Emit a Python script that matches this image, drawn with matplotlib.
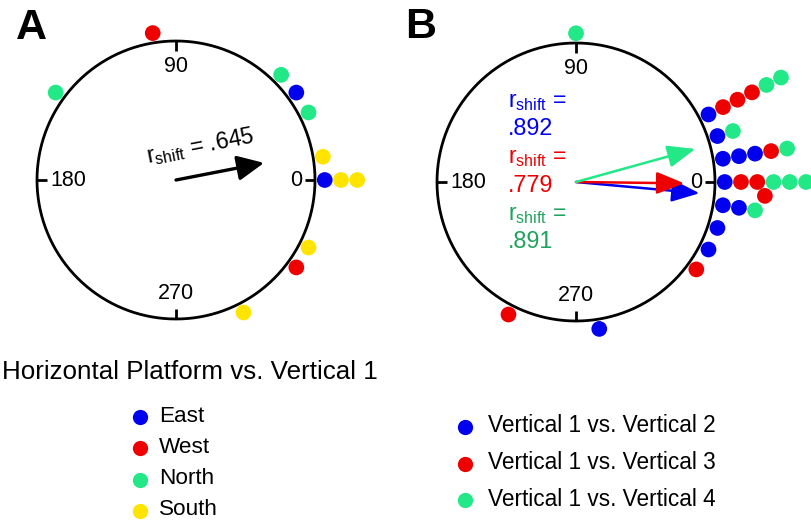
import matplotlib
matplotlib.use('Agg')
import matplotlib.pyplot as plt
import numpy as np
from matplotlib.lines import Line2D

plt.rcParams['font.family'] = ['Liberation Sans', 'DejaVu Sans']

# ---------------- data ----------------
BLUE = '#0000EE'
RED = '#EE0000'
GREEN = '#22E887'
YELLOW = '#FFE400'
GREEN_TXT = '#1FA35C'

# Panel A: phase shift (deg) and stack level of each dot
a_east_ang = [36, 0]
a_east_lvl = [0, 0]
a_west_ang = [99, 324]
a_west_lvl = [0, 0]
a_north_ang = [144, 45, 27]
a_north_lvl = [0, 0, 0]
a_south_ang = [9, 0, 0, 333, 297]
a_south_lvl = [0, 1, 2, 0, 0]
a_r = 0.645
a_mean_ang = 11.0

# Panel B
b_v2_ang = [27, 18, 9, 9, 9, 0, 351, 351, 342, 333, 279]
b_v2_lvl = [0, 0, 0, 1, 2, 0, 0, 1, 0, 0, 0]
b_v3_ang = [27, 27, 27, 9, 0, 0, 355.8, 324, 243]
b_v3_lvl = [1, 2, 3, 3, 1, 2, 2.5, 0, 0]
b_v4_ang = [90, 27, 27, 18, 9, 0, 0, 0, 351]
b_v4_lvl = [0, 4, 5, 1, 4, 3, 4, 5, 2]
b_r = [0.892, 0.779, 0.891]
b_mean_ang = [-5.2, -0.7, 15.5]

legend_a_title = 'Horizontal Platform vs. Vertical 1'
legend_a_labels = ['East', 'West', 'North', 'South']
legend_a_colors = [BLUE, RED, GREEN, YELLOW]
legend_b_labels = ['Vertical 1 vs. Vertical 2', 'Vertical 1 vs. Vertical 3',
                   'Vertical 1 vs. Vertical 4']
legend_b_colors = [BLUE, RED, GREEN]
b_text_colors = [BLUE, RED, GREEN_TXT]

tick_angles = [0, 90, 180, 270]

# ---------------- layout ----------------
W, H = 812, 526
fig = plt.figure(figsize=(W / 100, H / 100), dpi=100)
R = 139.0
BASE = 1.07
STEP = 0.117
DOT_S = 128
TICK_FS = 15.5


def make_ax(cx, cy, left_px, width_px):
    ax = fig.add_axes([left_px / W, 0, width_px / W, 1])
    ax.set_xlim((left_px - cx) / R, (left_px + width_px - cx) / R)
    ax.set_ylim(-(H - cy) / R, cy / R)
    ax.axis('off')
    return ax


def draw_circle(ax):
    t = np.linspace(0, 2 * np.pi, 721)
    ax.plot(np.cos(t), np.sin(t), color='black', lw=2, solid_capstyle='butt')
    for a in tick_angles:
        th = np.deg2rad(a)
        ax.plot([np.cos(th), 0.928 * np.cos(th)], [np.sin(th), 0.928 * np.sin(th)],
                color='black', lw=2, solid_capstyle='butt')
    ax.text(0, 0.815, '90', ha='center', va='center', fontsize=TICK_FS)
    ax.text(0, -0.82, '270', ha='center', va='center', fontsize=TICK_FS)
    ax.text(-0.905, 0, '180', ha='left', va='center', fontsize=TICK_FS)
    ax.text(0.905, 0, '0', ha='right', va='center', fontsize=TICK_FS)


def dots(ax, angles, levels, color):
    r = BASE + STEP * np.asarray(levels, dtype=float)
    th = np.deg2rad(np.asarray(angles, dtype=float))
    ax.scatter(r * np.cos(th), r * np.sin(th), s=DOT_S, color=color,
               edgecolors='none', clip_on=False, zorder=3)


def arrow(ax, r, ang, color, lw, hl, hw, ms):
    th = np.deg2rad(ang)
    ax.annotate('', xy=(r * np.cos(th), r * np.sin(th)), xytext=(0, 0),
                arrowprops=dict(arrowstyle='-|>,head_length=%g,head_width=%g' % (hl, hw),
                                mutation_scale=ms, lw=lw, color=color,
                                shrinkA=0, shrinkB=0), zorder=4)


# ---------------- panel A ----------------
axA = make_ax(176, 180, 0, 406)
draw_circle(axA)
dots(axA, a_east_ang, a_east_lvl, BLUE)
dots(axA, a_west_ang, a_west_lvl, RED)
dots(axA, a_north_ang, a_north_lvl, GREEN)
dots(axA, a_south_ang, a_south_lvl, YELLOW)
arrow(axA, a_r, a_mean_ang, 'black', 2.4, 0.85, 0.4, 19)
axA.text(-0.201, 0.119, r'r$_\mathregular{shift}$ = ' + ('%.3f' % a_r)[1:],
         rotation=a_mean_ang, rotation_mode='anchor', ha='left', va='baseline',
         fontsize=16.5)

# ---------------- panel B ----------------
axB = make_ax(576, 182, 406, 406)
draw_circle(axB)
dots(axB, b_v2_ang, b_v2_lvl, BLUE)
dots(axB, b_v3_ang, b_v3_lvl, RED)
dots(axB, b_v4_ang, b_v4_lvl, GREEN)
for r, ang, c in zip(b_r, b_mean_ang, [BLUE, RED, GREEN]):
    arrow(axB, r, ang, c, 1.8, 0.95, 0.38, 18)

for i, (r, c) in enumerate(zip(b_r, b_text_colors)):
    y1 = (182 - (106.7 + 56.6 * i)) / R
    y2 = (182 - (135.0 + 56.6 * i)) / R
    axB.text(-0.489, y1, r'r$_\mathregular{shift}$ =', color=c, fontsize=16.5,
             ha='left', va='baseline')
    axB.text(-0.489, y2, ('%.3f' % r)[1:], color=c, fontsize=16.8,
             ha='left', va='baseline')

# ---------------- panel labels ----------------
fig.text(16 / W, 1 - 39 / H, 'A', fontsize=31, fontweight='bold', ha='left', va='baseline')
fig.text(405 / W, 1 - 38.5 / H, 'B', fontsize=31, fontweight='bold', ha='left', va='baseline')

# ---------------- legends ----------------
def fx(px):
    return px / W


def fy(py):
    return 1 - py / H


fig.text(fx(2), fy(372), legend_a_title, fontsize=18.7, ha='left', va='center')
for i, (lab, c) in enumerate(zip(legend_a_labels, legend_a_colors)):
    y = 417.3 + 31.1 * i
    fig.add_artist(Line2D([fx(140)], [fy(y)], marker='o', ms=11, color=c,
                          mec='none', linestyle='none', transform=fig.transFigure))
    fig.text(fx(159), fy(y - 1), lab, fontsize=16.2, ha='left', va='center')

for i, (lab, c) in enumerate(zip(legend_b_labels, legend_b_colors)):
    y = 427 + 36.5 * i
    fig.add_artist(Line2D([fx(465)], [fy(y)], marker='o', ms=11, color=c,
                          mec='none', linestyle='none', transform=fig.transFigure))
    fig.text(fx(488), fy(y - 1), lab, fontsize=16.3, ha='left', va='center')

fig.savefig('out.png', dpi=100)
